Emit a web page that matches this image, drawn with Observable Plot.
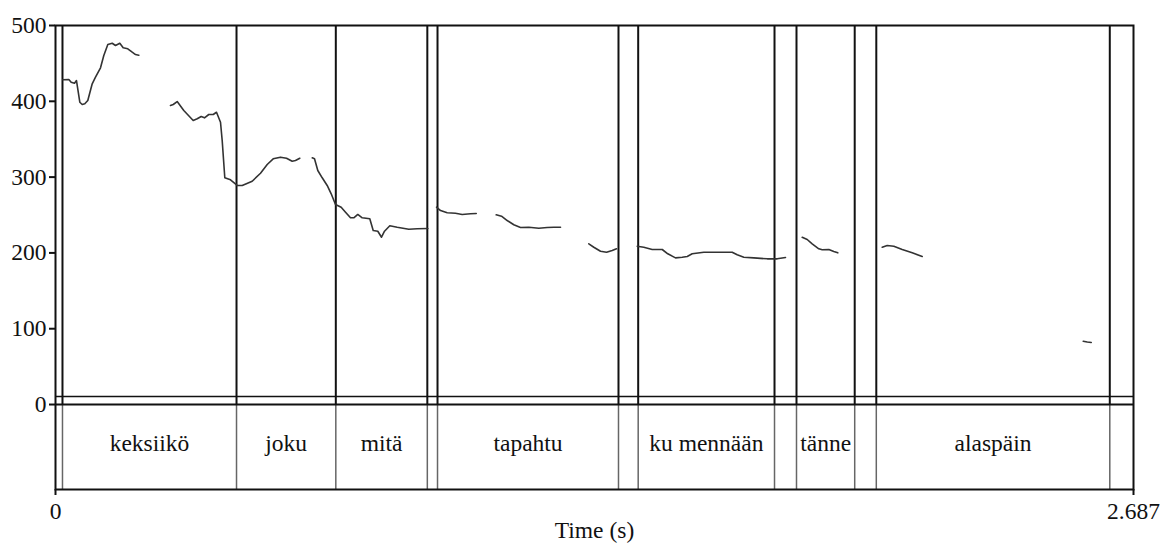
<!DOCTYPE html>
<html>
<head>
<meta charset="utf-8">
<script src="https://cdn.jsdelivr.net/npm/d3@7"></script>
<script src="https://cdn.jsdelivr.net/npm/@observablehq/plot@0.6"></script>
<style>
  html, body { margin: 0; padding: 0; background: #fff; }
  #chart svg { display: block; }
  #chart svg text { font-family: 'Liberation Serif', 'Times New Roman', serif; }
  g[aria-label="x-axis tick"], g[aria-label="y-axis tick"] { stroke-width: 2px; }
</style>
</head>
<body>
<div id="chart"></div>
<script>
// Pitch contour segments: [time (s), F0 (Hz)]
const seg1 = [[0.0182,428.4],[0.0332,428.8],[0.0391,425.2],[0.0474,423.9],[0.0523,427.4],[0.0606,398.8],[0.0666,395.8],[0.0730,396.7],[0.0805,401.1],[0.0915,423.1],[0.0997,431.8],[0.1122,444.2],[0.1204,460.4],[0.1304,474.9],[0.1413,476.6],[0.1496,473.6],[0.1603,476.6],[0.1687,470.6],[0.1802,469.3],[0.1912,464.8],[0.1994,461.7],[0.2076,460.8]];
const seg2 = [[0.2866,394.5],[0.2934,395.8],[0.3033,399.7],[0.3198,387.9],[0.3432,374.7],[0.3532,376.9],[0.3632,379.9],[0.3714,378.2],[0.3821,382.6],[0.3931,382.6],[0.4013,385.6],[0.4113,372.4],[0.4155,348.3],[0.4220,299.1],[0.4362,296.4],[0.4529,289.0],[0.4654,289.0],[0.4903,294.6],[0.5110,305.1],[0.5277,316.6],[0.5426,324.1],[0.5608,326.3],[0.5758,324.9],[0.5900,321.0],[0.5982,321.9],[0.6089,324.9]];
const seg3 = [[0.6399,325.5],[0.6456,324.1],[0.6538,308.7],[0.6648,299.1],[0.6772,289.0],[0.6872,278.0],[0.6979,263.9],[0.7121,260.3],[0.7229,253.7],[0.7353,246.3],[0.7435,246.3],[0.7535,250.7],[0.7645,246.3],[0.7834,245.0],[0.7919,229.6],[0.8034,228.6],[0.8126,220.7],[0.8201,228.6],[0.8333,235.8],[0.8517,233.9],[0.8806,231.3],[0.9016,231.8],[0.9280,232.2]];
const seg4 = [[0.9497,260.3],[0.9597,255.9],[0.9764,252.9],[0.9970,252.4],[1.0137,250.7],[1.0344,251.6],[1.0487,252.0]];
const seg5 = [[1.0985,250.3],[1.1117,248.4],[1.1259,242.7],[1.1424,237.1],[1.1591,233.5],[1.1798,233.9],[1.2047,232.6],[1.2256,233.5],[1.2421,233.9],[1.2588,233.9]];
const seg6 = [[1.3293,212.0],[1.3418,207.5],[1.3585,202.2],[1.3735,200.9],[1.3876,203.2],[1.3984,205.4]];
const seg7 = [[1.4500,208.8],[1.4664,207.5],[1.4873,204.5],[1.5013,204.5],[1.5123,204.5],[1.5262,198.8],[1.5454,193.5],[1.5621,194.3],[1.5746,195.3],[1.5870,198.8],[1.6159,200.9],[1.6494,200.9],[1.6867,200.9],[1.6992,197.5],[1.7157,194.3],[1.7406,193.5],[1.7740,192.2],[1.7989,192.2],[1.8196,193.9]];
const seg8 = [[1.8612,220.7],[1.8737,217.7],[1.8861,212.0],[1.9026,205.4],[1.9111,204.1],[1.9276,204.5],[1.9400,201.8],[1.9500,200.1]];
const seg9 = [[2.0607,207.5],[2.0731,209.8],[2.0896,208.8],[2.1105,204.5],[2.1354,200.1],[2.1603,195.3]];
const seg10 = [[2.5617,83.5],[2.5717,82.5],[2.5816,81.8]];
const pitchSegments = [seg1, seg2, seg3, seg4, seg5, seg6, seg7, seg8, seg9, seg10];

// Word tier
const tierBoundaries = [0.0174, 0.4512, 0.6987, 0.9268, 0.9522, 1.4033, 1.4524, 1.7922, 1.8470, 1.9921, 2.0459, 2.6279];
const tierLabels = ["", "keksiikö", "joku", "mitä", "", "tapahtu", "", "ku mennään", "", "tänne", "", "alaspäin", ""];

// Axes
const totalDuration = 2.687;
const yTicks = [0, 100, 200, 300, 400, 500];
const xTicks = [0, 2.687];
const xTickLabels = ["0", "2.687"];
const xLabel = "Time (s)";

// layout constants (value space)
const tierBottom = -112.1;   // bottom of text tier
const pitchFloorLine = 10.5; // thin line above 0
const tierTextY = -52;

const serif = "'Liberation Serif', 'Times New Roman', serif";
const pitchData = pitchSegments.flatMap((seg, i) => seg.map(([t, f]) => ({t, f, seg: i})));
const edges = [0, ...tierBoundaries, totalDuration];
const intervals = tierLabels.map((label, i) => ({label, start: edges[i], end: edges[i + 1]}))
  .filter(d => d.label);

const chart = Plot.plot({
  width: 1160,
  height: 548,
  marginLeft: 55,
  marginRight: 27,
  marginTop: 25,
  marginBottom: 59,
  style: {fontFamily: serif, fontSize: "23.5px", color: "#111", background: "#fff"},
  x: {domain: [0, totalDuration], ticks: xTicks, tickFormat: (d) => xTickLabels[xTicks.indexOf(d)] ?? String(d), tickSize: 6, tickPadding: 7, label: null},
  y: {domain: [tierBottom, 500], ticks: yTicks, tickFormat: d => String(d), tickSize: 6, tickPadding: 3, label: null},
  marks: [
    Plot.ruleX(tierBoundaries, {y1: tierBottom, y2: 0, stroke: "#666", strokeWidth: 1.5}),
    Plot.ruleX(tierBoundaries, {y1: 0, y2: 500, stroke: "#111", strokeWidth: 2}),
    Plot.ruleY([pitchFloorLine], {stroke: "#111", strokeWidth: 1.5}),
    Plot.ruleY([0], {stroke: "#111", strokeWidth: 2}),
    Plot.line(pitchData, {x: "t", y: "f", z: "seg", stroke: "#333", strokeWidth: 1.6, curve: "linear"}),
    Plot.text(intervals, {x: d => (d.start + d.end) / 2, y: () => tierTextY, text: "label", fill: "#111", fontSize: 23.5, fontFamily: serif}),
    Plot.text([xLabel], {frameAnchor: "bottom", dy: 48, fill: "#111", fontSize: 23.5, fontFamily: serif}),
    Plot.frame({stroke: "#111", strokeWidth: 2})
  ]
});
document.getElementById("chart").appendChild(chart);
</script>
</body>
</html>
